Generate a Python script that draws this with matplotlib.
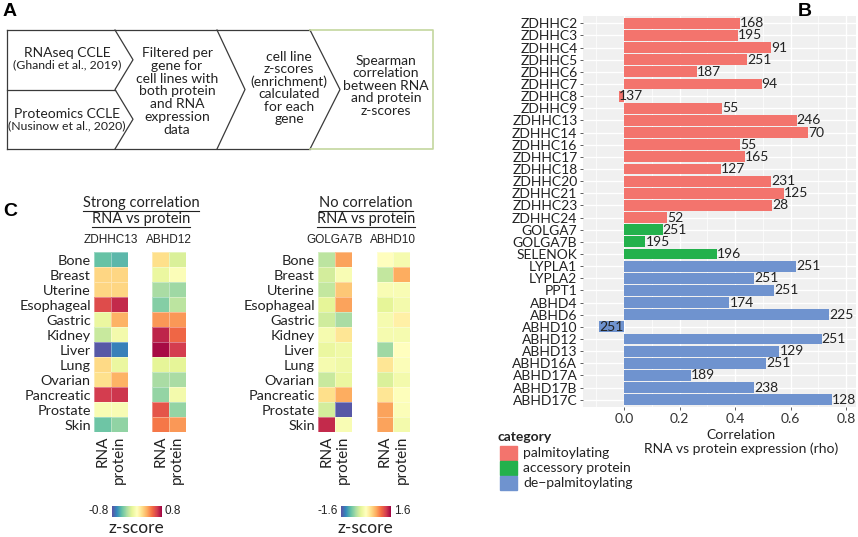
import numpy as np
import matplotlib.pyplot as plt
from matplotlib import colors, cm
from matplotlib.patches import Rectangle

W, H = 858, 537
plt.rcParams['font.family'] = ['Lato', 'DejaVu Sans']
NARROW = ['Liberation Sans', 'DejaVu Sans']

# ---- panel B data: RNA vs protein correlation per gene ----
genes = ['ZDHHC2', 'ZDHHC3', 'ZDHHC4', 'ZDHHC5', 'ZDHHC6', 'ZDHHC7', 'ZDHHC8',
         'ZDHHC9', 'ZDHHC13', 'ZDHHC14', 'ZDHHC16', 'ZDHHC17', 'ZDHHC18',
         'ZDHHC20', 'ZDHHC21', 'ZDHHC23', 'ZDHHC24', 'GOLGA7', 'GOLGA7B',
         'SELENOK', 'LYPLA1', 'LYPLA2', 'PPT1', 'ABHD4', 'ABHD6', 'ABHD10',
         'ABHD12', 'ABHD13', 'ABHD16A', 'ABHD17A', 'ABHD17B', 'ABHD17C']
rho = [0.418, 0.41, 0.53, 0.443, 0.262, 0.496, -0.017, 0.354, 0.622, 0.664,
       0.419, 0.435, 0.35, 0.531, 0.575, 0.533, 0.155, 0.139, 0.077, 0.335,
       0.621, 0.468, 0.54, 0.38, 0.739, -0.09, 0.712, 0.56, 0.513, 0.24,
       0.468, 0.748]
n_lines = [168, 195, 91, 251, 187, 94, 137, 55, 246, 70, 55, 165, 127, 231,
           125, 28, 52, 251, 195, 196, 251, 251, 251, 174, 225, 251, 251, 129,
           251, 189, 238, 128]
category = (['palmitoylating'] * 17 + ['accessory protein'] * 3
            + ['de\u2212palmitoylating'] * 12)
cat_names = ['palmitoylating', 'accessory protein', 'de\u2212palmitoylating']
cat_colors = ['#F3746D', '#23B14C', '#6F93CF']

# ---- panel C data: z-scores per tissue ----
tissues = ['Bone', 'Breast', 'Uterine', 'Esophageal', 'Gastric', 'Kidney',
           'Liver', 'Lung', 'Ovarian', 'Pancreatic', 'Prostate', 'Skin']
zdhhc13_rna = [-0.48, 0.19, 0.19, 0.59, -0.13, -0.24, -0.77, 0.18, 0.15, 0.64, -0.05, -0.46]
zdhhc13_prot = [-0.51, 0.19, 0.19, 0.69, 0.30, -0.08, -0.66, -0.13, 0.30, 0.66, -0.05, -0.38]
abhd12_rna = [0.16, -0.13, -0.32, -0.41, 0.37, 0.70, 0.77, -0.16, -0.32, -0.37, 0.56, 0.45]
abhd12_prot = [-0.19, -0.03, -0.35, -0.27, 0.37, 0.50, 0.64, -0.16, -0.32, -0.08, -0.37, 0.37]
golga7b_rna = [-0.54, -0.42, -0.51, -0.32, -0.45, -0.13, -0.26, -0.13, -0.48, 0.32, -0.42, 1.38]
golga7b_prot = [0.70, -0.10, 0.48, 0.70, -0.64, 0.26, -0.19, -0.19, -0.26, 0.64, -1.54, -0.10]
abhd10_rna = [0.0, -0.51, -0.10, -0.32, -0.13, -0.13, -0.70, 0.26, -0.38, 0.26, 0.70, 0.70]
abhd10_prot = [-0.13, 0.64, -0.10, -0.16, 0.16, -0.13, 0.0, -0.06, -0.16, -0.03, -0.06, -0.16]


def px(x, y, w, h):
    # pixel box (top-left origin) -> figure fraction
    return [x / W, 1 - (y + h) / H, w / W, h / H]


fig = plt.figure(figsize=(W / 100, H / 100), dpi=100)
fig.patch.set_facecolor('white')

# overlay axes in pixel coordinates for drawn shapes and free text
ax0 = fig.add_axes([0, 0, 1, 1])
ax0.set_xlim(0, W)
ax0.set_ylim(H, 0)
ax0.axis('off')

# ---- panel A: workflow chevrons ----
ink = '#3a3a3a'
y0, y1 = 30, 149
ym = (y0 + y1) / 2
ax0.plot([7, 7], [y0, y1], color=ink, lw=0.9)
ax0.plot([7, 310], [y0, y0], color=ink, lw=0.9)
ax0.plot([7, 310], [y1, y1], color=ink, lw=0.9)
ax0.plot([7, 115], [ym, ym], color=ink, lw=0.9)
ax0.plot([115, 133, 115, 133, 115], [y0, (y0 + ym) / 2, ym, (ym + y1) / 2, y1], color=ink, lw=0.9)
ax0.plot([217, 245, 217], [y0, ym, y1], color=ink, lw=0.9)
ax0.plot([310, 340, 310], [y0, ym, y1], color=ink, lw=0.9)
ax0.plot([310, 433, 433, 310], [y0, y0, y1, y1], color='#C4D79E', lw=1.2)

ax0.text(67, 53, 'RNAseq CCLE', ha='center', va='center', fontsize=10, color='#222')
ax0.text(67, 64.5, '(Ghandi et al., 2019)', ha='center', va='center', fontsize=8.8, color='#222')
ax0.text(67, 114, 'Proteomics CCLE', ha='center', va='center', fontsize=10, color='#222')
ax0.text(67, 126, '(Nusinow et al., 2020)', ha='center', va='center', fontsize=8.8, color='#222')

box_texts = [
    (177, 53, 12.8, ['Filtered per', 'gene for', 'cell lines with', 'both protein',
                     'and RNA', 'expression', 'data']),
    (289, 57, 12.4, ['cell line', 'z-scores', '(enrichment)', 'calculated',
                     'for each', 'gene']),
    (386, 61, 12.4, ['Spearman', 'correlation', 'between RNA', 'and protein', 'z-scores']),
]
for cx, cy, step, lines in box_texts:
    for i, line in enumerate(lines):
        ax0.text(cx, cy + i * step, line, ha='center', va='center', fontsize=10, color='#222')

# panel letters
for letter, x, y in [('A', 10, 12), ('B', 805, 12), ('C', 10, 212)]:
    ax0.text(x, y, letter, ha='center', va='center', fontsize=14, fontweight='bold',
             family='Liberation Sans')

# ---- panel B: correlation bar chart ----
axB = fig.add_axes(px(583, 16, 273, 391))
ypos = np.arange(len(genes))
bar_colors = [cat_colors[cat_names.index(c)] for c in category]
axB.barh(ypos, rho, height=0.9, color=bar_colors, zorder=2)
for yi, r, n in zip(ypos, rho, n_lines):
    axB.text(r, yi, str(n), ha='left', va='center', fontsize=10, color='#222', zorder=3)
axB.set_ylim(len(genes) - 0.4, -0.6)
axB.set_xlim(-0.148, 0.836)
axB.set_yticks(ypos)
axB.set_yticklabels(genes, fontsize=10, color='#222')
axB.set_xticks([0, 0.2, 0.4, 0.6, 0.8])
axB.set_xticklabels(['0.0', '0.2', '0.4', '0.6', '0.8'], fontsize=10, color='#333')
axB.set_xticks([-0.1, 0.1, 0.3, 0.5, 0.7], minor=True)
axB.set_facecolor('#F0F0F0')
axB.grid(which='major', color='white', lw=1.0)
axB.grid(which='minor', axis='x', color='white', lw=0.5)
axB.set_axisbelow(True)
for s in axB.spines.values():
    s.set_visible(False)
axB.tick_params(which='major', length=2, width=0.6, color='#444', pad=2)
axB.tick_params(which='minor', length=0)
ax0.text(741, 435, 'Correlation', ha='center', va='center', fontsize=10, color='#222')
ax0.text(741, 449, 'RNA vs protein expression (rho)', ha='center', va='center', fontsize=10, color='#222')

# legend for bar categories
ax0.text(498, 437, 'category', ha='left', va='center', fontsize=10, fontweight='bold', color='#222')
for i, (name, col) in enumerate(zip(cat_names, cat_colors)):
    yk = 453 + i * 15
    ax0.add_patch(Rectangle((500, yk - 7), 17, 14, color=col))
    ax0.text(523, yk, name, ha='left', va='center', fontsize=10, color='#222')

# ---- panel C: heatmaps ----
cmap = plt.get_cmap('Spectral_r')
heatmaps = [
    (94.3, 'ZDHHC13', zdhhc13_rna, zdhhc13_prot, 0.8, True),
    (152.3, 'ABHD12', abhd12_rna, abhd12_prot, 0.8, False),
    (318.3, 'GOLGA7B', golga7b_rna, golga7b_prot, 1.6, True),
    (376.7, 'ABHD10', abhd10_rna, abhd10_prot, 1.6, False),
]
for x, gene, rna, prot, lim, show_rows in heatmaps:
    ax = fig.add_axes(px(x, 252.3, 33.4, 180))
    data = np.column_stack([rna, prot])
    ax.pcolormesh(data, cmap=cmap, vmin=-lim, vmax=lim,
                  edgecolors=(1, 1, 1, 0.35), linewidth=0.4)
    ax.set_xlim(0, 2)
    ax.set_ylim(len(tissues), 0)
    ax.set_xticks([0.5, 1.5])
    ax.set_xticklabels(['RNA', 'protein'], rotation=90, fontsize=11, color='#222')
    ax.set_yticks(np.arange(len(tissues)) + 0.5)
    if show_rows:
        ax.set_yticklabels(tissues, fontsize=10.4, color='#222')
    else:
        ax.set_yticklabels([])
    ax.tick_params(length=0, pad=2.5)
    for s in ax.spines.values():
        s.set_visible(False)
    ax0.text(x + 16.7, 240, gene, ha='center', va='center', fontsize=8.5, family=NARROW, color='#222')

# group titles (underlined)
titles = [(141, 'Strong correlation'), (366, 'No correlation')]
title_objs = []
for cx, head in titles:
    t1 = ax0.text(cx, 203, head, ha='center', va='center', fontsize=10.5, color='#222')
    t2 = ax0.text(cx, 219.5, 'RNA vs protein', ha='center', va='center', fontsize=10.5, color='#222')
    title_objs += [(t1, 210.7), (t2, 227)]

# colour bars
for x, lim in [(111.7, 0.8), (340.7, 1.6)]:
    cax = fig.add_axes(px(x, 506, 50.5, 10.7))
    sm = cm.ScalarMappable(norm=colors.Normalize(-lim, lim), cmap=cmap)
    cb = fig.colorbar(sm, cax=cax, orientation='horizontal')
    cb.set_ticks([])
    cb.outline.set_visible(False)
    ax0.text(x - 3, 511.5, f'-{lim}', ha='right', va='center', fontsize=8.5, family=NARROW, color='#222')
    ax0.text(x + 53, 511.5, f'{lim}', ha='left', va='center', fontsize=8.5, family=NARROW, color='#222')
    ax0.text(x + 25, 528, 'z-score', ha='center', va='center', fontsize=12.5, color='#222')

# underline the group titles using their rendered widths
fig.canvas.draw()
inv = ax0.transData.inverted()
for t, yu in title_objs:
    bb = t.get_window_extent()
    (xa, _), (xb, _) = inv.transform([(bb.x0, bb.y0), (bb.x1, bb.y0)])
    ax0.plot([xa, xb], [yu, yu], color='#222', lw=0.8)

fig.savefig('out.png', dpi=100)
